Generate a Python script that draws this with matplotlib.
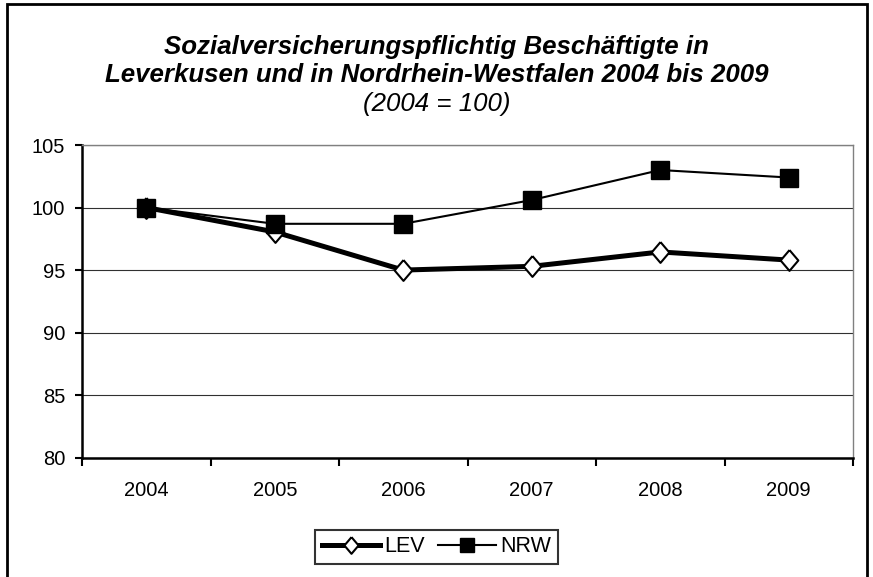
import matplotlib
matplotlib.use("Agg")
import matplotlib.pyplot as plt
from matplotlib.patches import Rectangle
from matplotlib.ticker import MultipleLocator, FixedLocator

plt.rcParams['font.family'] = ['Liberation Sans', 'DejaVu Sans']

# Data
years = ['2004', '2005', '2006', '2007', '2008', '2009']
lev = [100.0, 98.05, 95.0, 95.3, 96.45, 95.8]
nrw = [100.0, 98.7, 98.7, 100.6, 103.0, 102.4]

# Figure size in pixels
W, H = 873, 577
DPI = 100

fig = plt.figure(figsize=(W / DPI, H / DPI), dpi=DPI)

# Plot area (pixel coordinates of the reference)
left, right, top, bottom = 82, 853, 145, 457.7
ax = fig.add_axes([left / W, 1 - bottom / H, (right - left) / W, (bottom - top) / H])

x = list(range(len(years)))
diamond = [(0, 1), (0.85, 0), (0, -1), (-0.85, 0), (0, 1)]

ax.plot(x, lev, color='black', linewidth=3.6, marker=diamond, markersize=15,
        markerfacecolor='white', markeredgecolor='black', markeredgewidth=1.5,
        label='LEV', zorder=3)
ax.plot(x, nrw, color='black', linewidth=1.5, marker='s', markersize=12.5,
        markerfacecolor='black', markeredgecolor='black', label='NRW', zorder=4)

ax.set_xlim(-0.5, len(years) - 0.5)
ax.set_ylim(80, 105)

# y axis
ax.yaxis.set_major_locator(MultipleLocator(5))
ax.grid(axis='y', which='major', color='#303030', linewidth=0.8)
ax.set_axisbelow(True)
ax.tick_params(axis='y', which='major', direction='out', length=5, width=1.5,
               pad=7, labelsize=14.5)

# x axis: labels at category centres, tick marks between categories
ax.xaxis.set_major_locator(FixedLocator(x))
ax.set_xticklabels(years)
ax.xaxis.set_minor_locator(FixedLocator([i - 0.5 for i in range(len(years) + 1)]))
ax.tick_params(axis='x', which='major', length=0, pad=17, labelsize=14.5)
ax.tick_params(axis='x', which='minor', direction='out', length=5.5, width=1.5)

for side in ['left', 'bottom']:
    ax.spines[side].set_color('black')
    ax.spines[side].set_linewidth(1.8)
for side in ['top', 'right']:
    ax.spines[side].set_color('#808080')
    ax.spines[side].set_linewidth(1.0)

# Title lines
cx = 0.5
fig.text(cx, 1 - 54 / H, 'Sozialversicherungspflichtig Beschäftigte in',
         ha='center', va='baseline', fontsize=18.6, fontweight='bold', style='italic')
fig.text(cx, 1 - 82 / H, 'Leverkusen und in Nordrhein-Westfalen 2004 bis 2009',
         ha='center', va='baseline', fontsize=18.6, fontweight='bold', style='italic')
fig.text(cx, 1 - 111 / H, '(2004 = 100)',
         ha='center', va='baseline', fontsize=18.6, style='italic')

# Legend
leg = fig.legend(loc='center', bbox_to_anchor=(0.5, 1 - 547 / H), ncol=2,
                 fontsize=15.5, frameon=True, fancybox=False, handlelength=2.7,
                 handletextpad=0.2, columnspacing=0.6, borderpad=0.3,
                 markerscale=0.8, borderaxespad=0)
leg.get_frame().set_edgecolor('black')
leg.get_frame().set_linewidth(1.5)

# Outer chart border (open at the bottom like the reference crop)
fig.patches.append(Rectangle((7 / W, -0.05), (867 - 7) / W, 1.05 - 4 / H,
                             transform=fig.transFigure, fill=False,
                             edgecolor='black', linewidth=2.0))

fig.savefig('out.png', dpi=DPI)
